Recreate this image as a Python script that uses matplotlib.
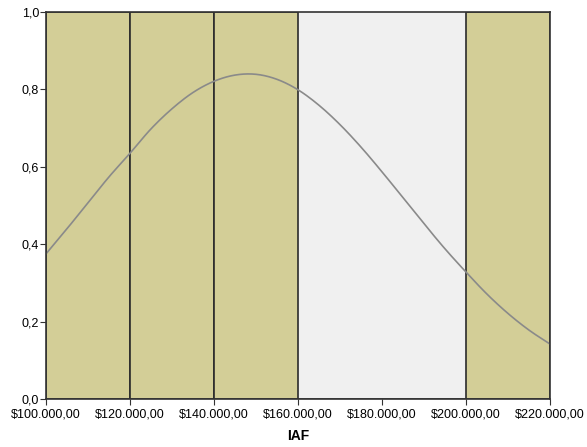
import numpy as np
import matplotlib
matplotlib.use("Agg")
import matplotlib.pyplot as plt

plt.rcParams['font.family'] = ['Liberation Sans', 'DejaVu Sans']

# histograma (bins de 20.000)
bin_esq = [100000, 120000, 140000, 160000, 180000, 200000]
alturas = [1.0, 1.0, 1.0, 0.0, 0.0, 1.0]
largura = 20000

# curva normal
curva_x = [100000, 105000, 110000, 115000, 120000, 125000, 130000, 135000,
           140000, 145000, 150000, 155000, 160000, 165000, 170000, 175000,
           180000, 185000, 190000, 195000, 200000, 205000, 210000, 215000, 220000]
curva_y = [0.375, 0.440, 0.507, 0.574, 0.635, 0.698, 0.750, 0.792,
           0.821, 0.837, 0.839, 0.826, 0.799, 0.759, 0.709, 0.651,
           0.587, 0.520, 0.453, 0.388, 0.328, 0.271, 0.221, 0.178, 0.142]

xticks = [100000, 120000, 140000, 160000, 180000, 200000, 220000]
xlabels = ['$100.000,00', '$120.000,00', '$140.000,00', '$160.000,00',
           '$180.000,00', '$200.000,00', '$220.000,00']
yticks = [0.0, 0.2, 0.4, 0.6, 0.8, 1.0]
ylabels = ['0,0', '0,2', '0,4', '0,6', '0,8', '1,0']


def suaviza(x, y, n=10):
    # catmull-rom entre os pontos lidos, so para a linha ficar lisa
    x = np.asarray(x, float)
    y = np.asarray(y, float)
    px = np.concatenate([[2*x[0] - x[1]], x, [2*x[-1] - x[-2]]])
    py = np.concatenate([[2*y[0] - y[1]], y, [2*y[-1] - y[-2]]])
    t = np.linspace(0, 1, n, endpoint=False)
    ox, oy = [], []
    for i in range(1, len(px) - 2):
        for p, o in ((px, ox), (py, oy)):
            p0, p1, p2, p3 = p[i-1], p[i], p[i+1], p[i+2]
            o.extend(0.5*(2*p1 + (-p0 + p2)*t + (2*p0 - 5*p1 + 4*p2 - p3)*t**2
                          + (-p0 + 3*p1 - 3*p2 + p3)*t**3))
    ox.append(x[-1])
    oy.append(y[-1])
    return ox, oy


fig = plt.figure(figsize=(5.87, 4.47), dpi=100)
ax = fig.add_axes([46/587, 1 - 399/447, (550 - 46)/587, (399 - 12)/447])
ax.set_facecolor('#F0F0F0')

ax.bar(bin_esq, alturas, width=largura, align='edge', color='#D3CE97',
       edgecolor='#2B2B2B', linewidth=1.2)
sx, sy = suaviza(curva_x, curva_y)
ax.plot(sx, sy, color='#8A8A8A', linewidth=1.2)

ax.set_xlim(100000, 220000)
ax.set_ylim(0, 1.0)
ax.set_xticks(xticks)
ax.set_xticklabels(xlabels, fontsize=9)
ax.set_yticks(yticks)
ax.set_yticklabels(ylabels, fontsize=9)
ax.tick_params(direction='out', length=4, width=0.8, color='#333333', pad=1)
ax.tick_params(axis='x', pad=3)
for s in ax.spines.values():
    s.set_color('#333333')
    s.set_linewidth(1.2)
ax.set_xlabel('IAF', fontsize=10, fontweight='bold', labelpad=6)

fig.savefig('out.png', dpi=100)
